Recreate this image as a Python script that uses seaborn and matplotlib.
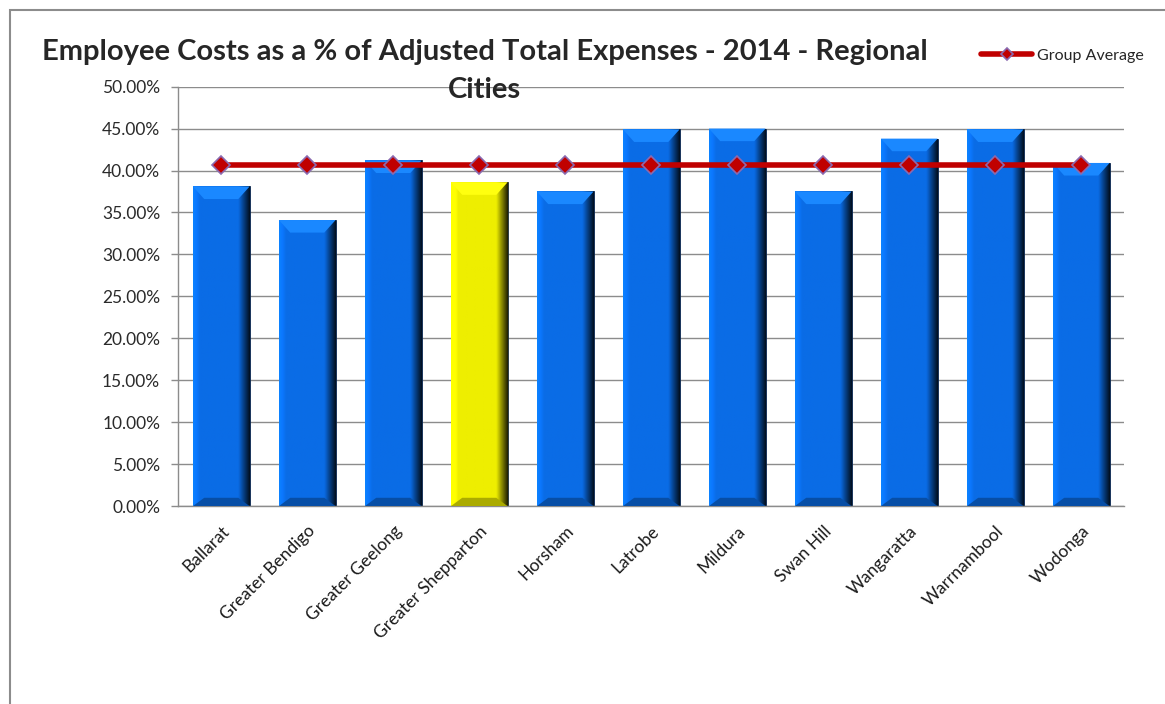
import numpy as np
import pandas as pd
import seaborn as sns
import matplotlib.pyplot as plt
from matplotlib.colors import to_rgb
from matplotlib.patches import Rectangle
from matplotlib.ticker import FuncFormatter, FixedLocator
from matplotlib.transforms import ScaledTranslation

# chart data
cities = ["Ballarat", "Greater Bendigo", "Greater Geelong", "Greater Shepparton",
          "Horsham", "Latrobe", "Mildura", "Swan Hill", "Wangaratta",
          "Warrnambool", "Wodonga"]
employee_pct = [38.1, 34.1, 41.2, 38.6, 37.5, 44.9, 45.0, 37.5, 43.8, 44.9, 40.9]
group_avg = [40.6, 40.6, 40.6, 40.6, 40.6, 40.6, 40.6, 40.6, 40.6, 40.6, 40.6]
highlight = "Greater Shepparton"
y_ticks = [0, 5, 10, 15, 20, 25, 30, 35, 40, 45, 50]

BLUE = "#0a6ce6"
YELLOW = "#eeee00"

sns.set_style("white")
plt.rcParams["font.family"] = ["Lato", "DejaVu Sans"]

df = pd.DataFrame({"city": cities, "pct": employee_pct, "avg": group_avg})
palette = {c: (YELLOW if c == highlight else BLUE) for c in cities}

fig = plt.figure(figsize=(11.65, 7.04), dpi=100)
ax = fig.add_axes([0.153, 0.281, 0.812, 0.596])

sns.barplot(data=df, x="city", y="pct", hue="city", palette=palette,
            legend=False, width=0.66, saturation=1, edgecolor="#0a1f40",
            linewidth=0.6, ax=ax, zorder=2)

# fake the excel bevel with a clipped horizontal gradient on each bar
for patch, city in zip(ax.patches, cities):
    base = np.array(to_rgb(palette[city]))
    x0, w, h = patch.get_x(), patch.get_width(), patch.get_height()
    t = np.linspace(0, 1, 64)
    shade = np.where(t < 0.12, 1.0 + 0.2 * (0.12 - t) / 0.12,
                     np.where(t < 0.8, 1.0, 1.0 - 0.85 * (t - 0.8) / 0.2))
    cols = np.clip(base[None, :] * shade[:, None], 0, 1)
    grad = np.repeat(cols[None, :, :], 2, axis=0)
    im = ax.imshow(grad, extent=[x0, x0 + w, 0, h], aspect="auto",
                   zorder=2.5, interpolation="bilinear")
    im.set_clip_path(patch)
    # lighter top bevel and darker bottom bevel
    top = plt.Polygon([[x0, h], [x0 + w, h], [x0 + w * 0.8, h - 1.5], [x0 + w * 0.2, h - 1.5]],
                      closed=True, color=np.clip(base * 1.12 + 0.06, 0, 1), zorder=2.6, lw=0)
    ax.add_patch(top)
    bot = plt.Polygon([[x0, 0], [x0 + w, 0], [x0 + w * 0.8, 1.0], [x0 + w * 0.2, 1.0]],
                      closed=True, color=base * 0.72, zorder=2.6, lw=0)
    ax.add_patch(bot)

sns.pointplot(data=df, x="city", y="avg", color="#c00000", marker="D",
              markersize=9, markeredgecolor="#8a6ab0", markeredgewidth=1.2,
              linewidth=4, errorbar=None, label="Group Average", ax=ax, zorder=4)
if ax.get_legend() is not None:
    ax.get_legend().remove()

ax.set_xlim(-0.5, len(cities) - 0.5)
ax.set_ylim(0, 50)
ax.set_yticks(y_ticks)
ax.yaxis.set_major_formatter(FuncFormatter(lambda v, p: f"{v:.2f}%"))
ax.yaxis.grid(True, color="#8c8c8c", linewidth=1, zorder=0)
ax.set_axisbelow(True)
ax.set_xlabel("")
ax.set_ylabel("")

ax.set_xticks(range(len(cities)))
ax.set_xticklabels(cities, rotation=45, ha="right", rotation_mode="anchor",
                   fontsize=12.5, color="#1a1a1a")
shift = ScaledTranslation(4 / 72, -2 / 72, fig.dpi_scale_trans)
for lbl in ax.get_xticklabels():
    lbl.set_transform(lbl.get_transform() + shift)
ax.xaxis.set_minor_locator(FixedLocator(np.arange(-0.5, len(cities), 1.0)))
ax.tick_params(axis="x", which="major", length=0, pad=12)
ax.tick_params(axis="x", which="minor", length=6, color="#8c8c8c", width=1)
ax.tick_params(axis="y", length=5, color="#8c8c8c", width=1, labelsize=12.5,
               labelcolor="#2a2a2a", pad=8, left=True)

for side in ["top", "right"]:
    ax.spines[side].set_visible(False)
for side in ["left", "bottom"]:
    ax.spines[side].set_color("#8c8c8c")
    ax.spines[side].set_linewidth(1)

fig.text(0.416, 0.926, "Employee Costs as a % of Adjusted Total Expenses - 2014 - Regional",
         ha="center", va="center", fontsize=21, fontweight="bold")
fig.text(0.416, 0.872, "Cities", ha="center", va="center", fontsize=21, fontweight="bold")

handles, labels = ax.get_legend_handles_labels()
fig.legend(handles, labels, loc="center left", bbox_to_anchor=(0.83, 0.921),
           frameon=False, fontsize=11.5, handlelength=3.2, handletextpad=0.3,
           markerscale=0.7)

# outer chart frame (cropped on right/bottom like the screenshot)
fig.patches.append(Rectangle((0.0086, -0.05), 1.1, 1.036, transform=fig.transFigure,
                             fill=False, edgecolor="#8c8c8c", linewidth=1.5, zorder=0))

fig.savefig("out.png", dpi=100)
